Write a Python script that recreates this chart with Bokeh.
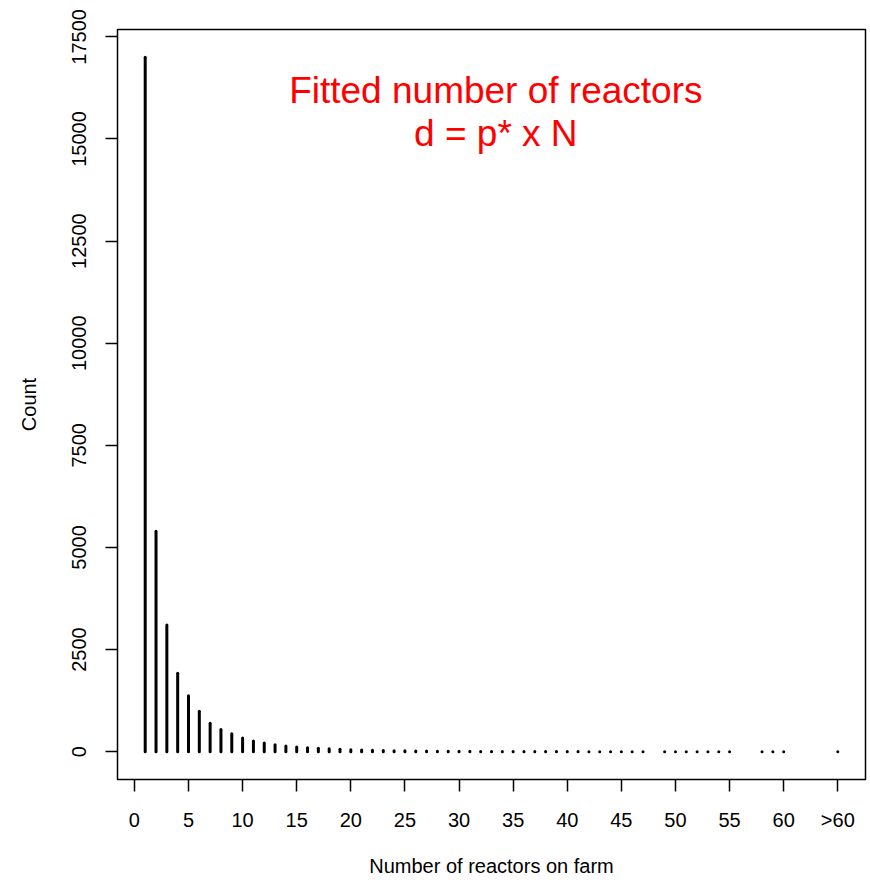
from bokeh.plotting import figure
from bokeh.models import Range1d, FixedTicker, Label, ColumnDataSource
from bokeh.embed import file_html
from bokeh.resources import INLINE

# Data: number of reactors on farm (65 represents ">60") and counts
reactors = list(range(1, 48)) + list(range(49, 56)) + [58, 59, 60, 65]
counts = [17000, 5400, 3100, 1920, 1370, 990, 695, 545, 440, 335,
          262, 213, 171, 139, 115, 98, 85, 70, 60, 50,
          42, 36, 30, 26, 22, 19, 16, 14, 12, 10,
          9, 8, 7, 6, 5, 5, 4, 4, 3, 3,
          3, 2, 2, 2, 2, 1, 1,
          1, 1, 1, 1, 1, 1, 1,
          1, 1, 1, 2]
x_ticks = [0, 5, 10, 15, 20, 25, 30, 35, 40, 45, 50, 55, 60, 65]
x_tick_labels = ["0", "5", "10", "15", "20", "25", "30", "35", "40", "45", "50", "55", "60", ">60"]
y_ticks = [0, 2500, 5000, 7500, 10000, 12500, 15000, 17500]
title_lines = ["Fitted number of reactors", "d = p* x N"]

FONT = "Liberation Sans"

src = ColumnDataSource(dict(x=reactors, y0=[0] * len(counts), y1=counts))

p = figure(width=870, height=880, output_backend="svg", toolbar_location=None,
           x_range=Range1d(-1.56, 67.56), y_range=Range1d(-680, 17680),
           min_border_left=117, min_border_right=5, min_border_top=29, min_border_bottom=101,
           x_axis_label="Number of reactors on farm", y_axis_label="Count")
p.background_fill_color = "white"
p.border_fill_color = "white"
p.outline_line_color = "black"
p.outline_line_width = 1.5
p.xgrid.visible = False
p.ygrid.visible = False

p.segment(x0="x", y0="y0", x1="x", y1="y1", source=src,
          line_color="black", line_width=3, line_cap="round")

for ax in (p.xaxis[0], p.yaxis[0]):
    ax.axis_line_color = None
    ax.major_tick_line_color = "black"
    ax.major_tick_line_width = 1.5
    ax.major_tick_out = 12
    ax.major_tick_in = 0
    ax.minor_tick_line_color = None
    ax.major_label_text_font = FONT
    ax.major_label_text_font_size = "20px"
    ax.major_label_text_color = "black"
    ax.axis_label_text_font = FONT
    ax.axis_label_text_font_size = "20px"
    ax.axis_label_text_font_style = "normal"
    ax.axis_label_text_color = "black"

p.xaxis[0].ticker = FixedTicker(ticks=x_ticks)
p.xaxis[0].major_label_overrides = {t: l for t, l in zip(x_ticks, x_tick_labels)}
p.xaxis[0].major_label_standoff = 17
p.xaxis[0].axis_label_standoff = 21

p.yaxis[0].ticker = FixedTicker(ticks=y_ticks)
p.yaxis[0].major_label_overrides = {t: str(t) for t in y_ticks}
p.yaxis[0].major_label_orientation = "vertical"
p.yaxis[0].major_label_standoff = 19
p.yaxis[0].axis_label_standoff = 30

for txt, yy in zip(title_lines, [16179, 15126]):
    p.add_layout(Label(x=33.4, y=yy, text=txt, text_align="center", text_baseline="middle",
                       text_color="#FF0000", text_font=FONT, text_font_size="37px"))

open("out.html", "w").write(file_html(p, INLINE))
